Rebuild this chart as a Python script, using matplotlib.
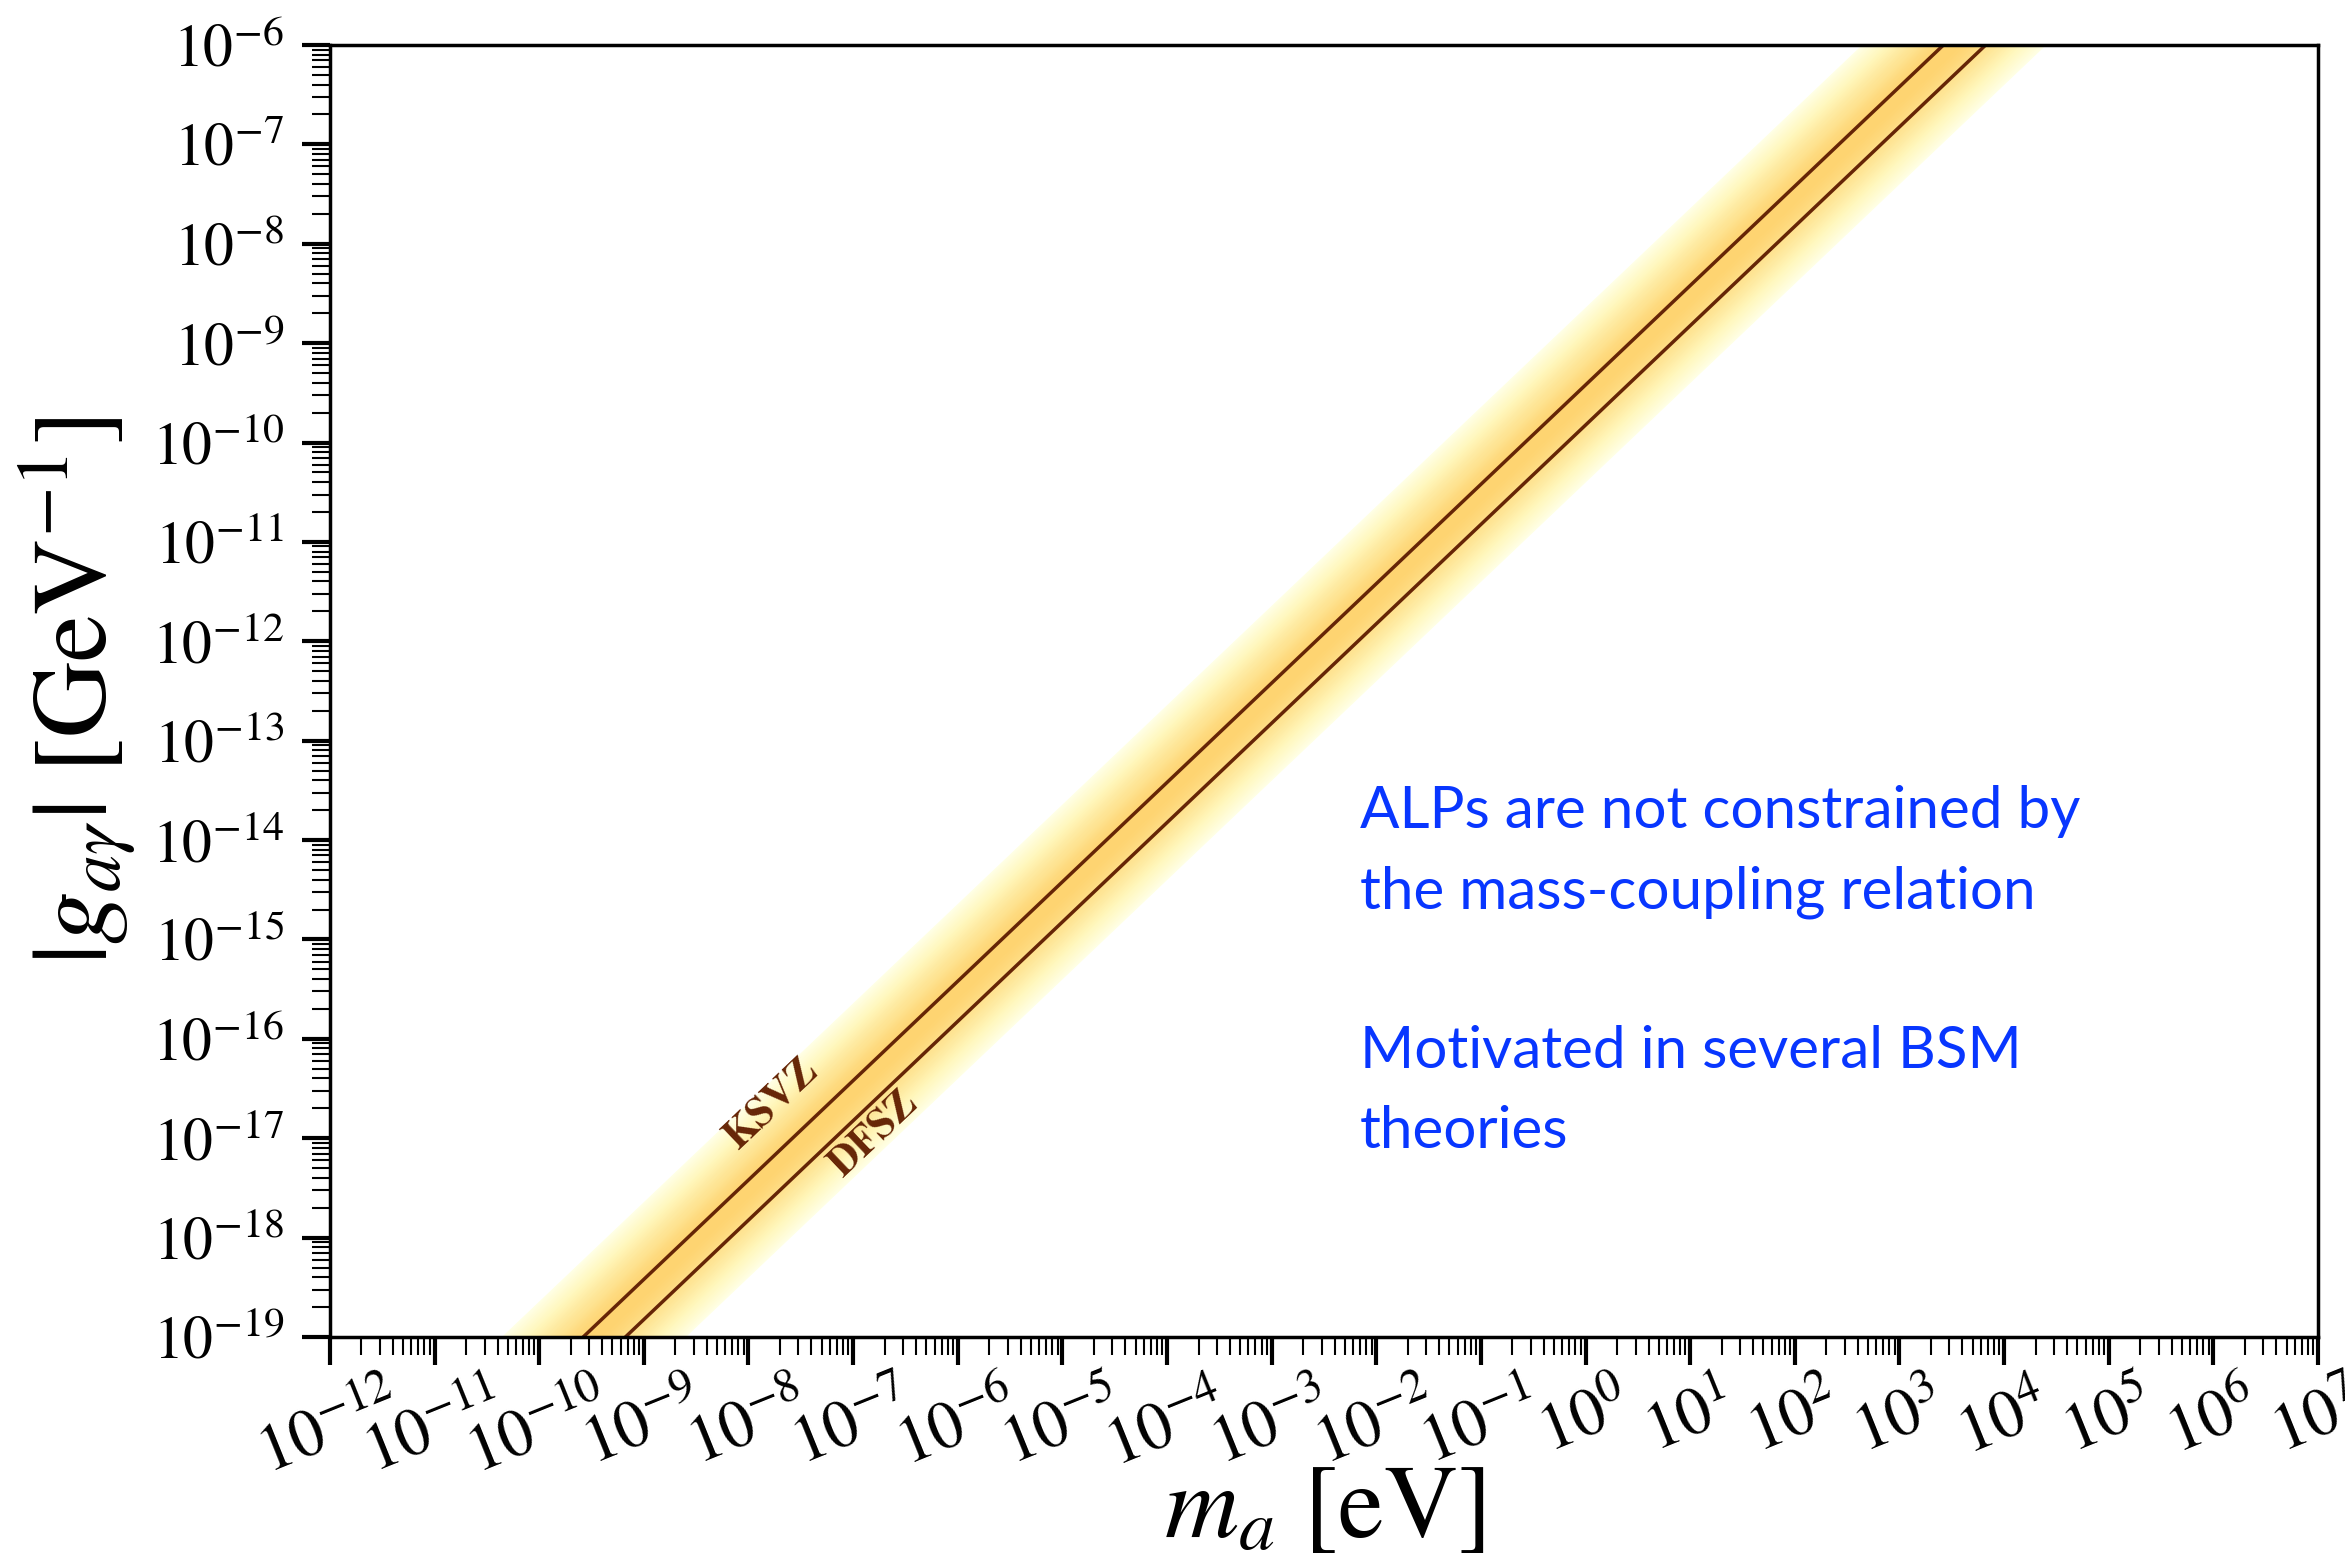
import numpy as np
import matplotlib
matplotlib.use("Agg")
import matplotlib.pyplot as plt
from matplotlib.ticker import LogLocator, NullFormatter

plt.rcParams['font.family'] = 'STIXGeneral'
plt.rcParams['mathtext.fontset'] = 'stix'

# axion mass range [eV] and coupling range [GeV^-1]
ma = np.array([1e-12, 1e7])
g_lim = np.array([1e-19, 1e-6])

# benchmark QCD axion lines g = C * m (values at the ends of the mass range)
g_ksvz = np.array([3.8e-22, 3.8e-3])
g_dfsz = np.array([1.5e-22, 1.5e-3])
band_center = np.array([3.0e-22, 3.0e-3])

# label anchor points (mass, coupling)
ksvz_label = (8e-9, 7.5e-18)
dfsz_label = (8e-8, 3.9e-18)

notes = ["ALPs are not constrained by", "the mass-coupling relation",
         "Motivated in several BSM", "theories"]
notes_y = [0.394, 0.332, 0.208, 0.146]

fig = plt.figure(figsize=(23.45, 15.57), dpi=100)
ax = fig.add_axes([0.1407, 0.1413, 0.8478, 0.8298])
ax.set_xscale('log')
ax.set_yscale('log')
ax.set_xlim(ma)
ax.set_ylim(g_lim)

# orange gradient band
cmap = plt.get_cmap('YlOrBr')
half = 0.88
sig = 0.8
vmin = np.exp(-half**2 / (2 * sig**2))
vmax = 2.0
for d in np.linspace(half, 0, 70, endpoint=False):
    lev = np.exp(-d**2 / (2 * sig**2))
    c = cmap((lev - vmin) / (vmax - vmin))
    ax.fill_between(ma, band_center * 10**(-d), band_center * 10**d,
                    color=c, lw=0, zorder=1)

line_col = cmap(1.0)
ax.plot(ma, g_ksvz, '-', lw=2.5, color=line_col, zorder=2)
ax.plot(ma, g_dfsz, '-', lw=2.5, color=line_col, zorder=2)

p = ax.transData.transform(np.column_stack([ma, g_ksvz]))
ang = np.degrees(np.arctan2(p[1, 1] - p[0, 1], p[1, 0] - p[0, 0]))
ax.text(ksvz_label[0], ksvz_label[1], 'KSVZ', fontsize=30, fontweight='bold',
        color=line_col, rotation=ang, rotation_mode='anchor',
        ha='left', va='baseline', zorder=3)
ax.text(dfsz_label[0], dfsz_label[1], 'DFSZ', fontsize=30, fontweight='bold',
        color=line_col, rotation=ang, rotation_mode='anchor',
        ha='left', va='baseline', zorder=3)

for s, y in zip(notes, notes_y):
    ax.text(0.518, y, s, transform=ax.transAxes, fontsize=42, family='Lato',
            color='#0836ff', ha='left', va='baseline')

# ticks
ax.xaxis.set_major_locator(LogLocator(base=10, numticks=40))
ax.xaxis.set_minor_locator(LogLocator(base=10, subs=np.arange(2, 10), numticks=40))
ax.yaxis.set_major_locator(LogLocator(base=10, numticks=40))
ax.yaxis.set_minor_locator(LogLocator(base=10, subs=np.arange(2, 10), numticks=40))
ax.xaxis.set_minor_formatter(NullFormatter())
ax.yaxis.set_minor_formatter(NullFormatter())
ax.tick_params(which='major', direction='out', length=20, width=3, labelsize=43)
ax.tick_params(which='minor', direction='out', length=13, width=1.5)
ax.tick_params(axis='y', which='major', pad=13)
ax.tick_params(axis='x', which='major', pad=8, labelrotation=22, labelsize=48)
ax.tick_params(top=False, right=False, which='both')
for sp in ax.spines.values():
    sp.set_linewidth(2.5)

ax.set_xlabel(r'$m_a\ [\mathrm{eV}]$', fontsize=74)
ax.set_ylabel(r'$|g_{a\gamma}|\ [\mathrm{GeV}^{-1}]$', fontsize=76)
ax.xaxis.set_label_coords(0.5, -0.10)
ax.yaxis.set_label_coords(-0.097, 0.5)

fig.savefig('out.png', dpi=100)
